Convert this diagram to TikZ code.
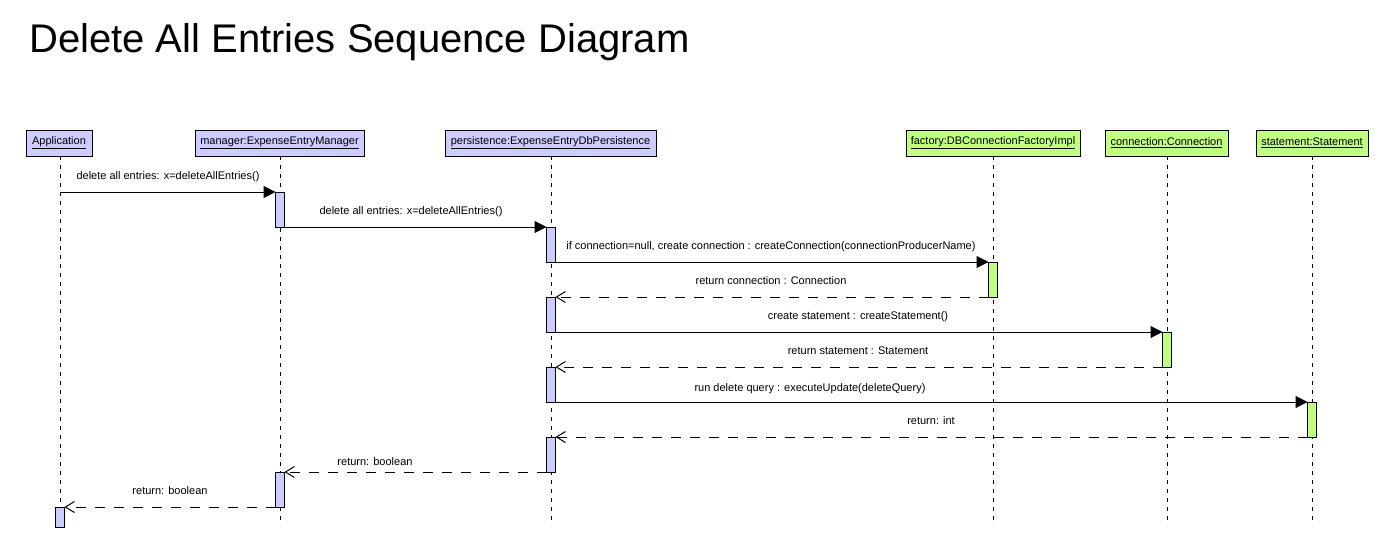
\documentclass[tikz,border=0pt]{standalone}
\usepackage{fontspec}
\setmainfont{Liberation Sans}
\usetikzlibrary{arrows.meta}
\definecolor{lav}{RGB}{204,204,255}
\definecolor{lgreen}{RGB}{192,255,128}
\begin{document}
\begin{tikzpicture}[x=1pt,y=-1pt,
  hdr/.style={draw,line width=1pt,minimum height=26pt,inner sep=0pt,outer sep=0pt,
    font=\fontsize{11}{13}\selectfont},
  hdrA/.style={hdr,fill=lav},
  hdrB/.style={hdr,fill=lgreen},
  bar/.style={draw,line width=1pt,minimum width=9pt,minimum height=35pt,inner sep=0pt,outer sep=0pt},
  barA/.style={bar,fill=lav},
  barB/.style={bar,fill=lgreen},
  life/.style={line width=1pt,dash pattern=on 4pt off 5pt},
  sync/.style={line width=1pt,-{Triangle[length=12pt,width=12pt]}},
  ret/.style={line width=1pt,dash pattern=on 10pt off 9pt,-{Straight Barb[length=9pt,width=11pt,line width=1pt]}},
  lbl/.style={anchor=base,inner sep=0pt,font=\fontsize{11}{13}\selectfont}]
\useasboundingbox[fill=white] (0,0) rectangle (1379,538);

\node[anchor=base west,inner sep=0pt,font=\fontsize{40}{48}\selectfont] (title) at (29,52) {Delete All Entries Sequence Diagram};

% headers
\node[hdrA,minimum width=66pt]  (app)  at (59,143)   {\underline{Application}};
\node[hdrA,minimum width=169pt] (man)  at (279.5,143) {\underline{manager:ExpenseEntryManager}};
\node[hdrA,minimum width=211pt] (per)  at (550.5,143) {\underline{persistence:ExpenseEntryDbPersistence}};
\node[hdrB,minimum width=174pt] (fac)  at (993,143)   {\underline{factory:DBConnectionFactoryImpl}};
\node[hdrB,minimum width=123pt] (con)  at (1166.5,143) {\underline{connection:Connection}};
\node[hdrB,minimum width=112pt] (sta)  at (1312,143)  {\underline{statement:Statement}};

% lifeline ends
\coordinate (appE) at (60,525);
\coordinate (manE) at (280,525);
\coordinate (perE) at (551,525);
\coordinate (facE) at (993,525);
\coordinate (conE) at (1167,525);
\coordinate (staE) at (1312,525);
\draw[life] (60,156) -- (appE);
\draw[life] (280,156) -- (manE);
\draw[life] (551,156) -- (perE);
\draw[life] (993,156) -- (facE);
\draw[life] (1167,156) -- (conE);
\draw[life] (1312,156) -- (staE);

% activation bars
\node[barA] (m1) at (280,209.5) {};
\node[barA] (p1) at (551,244.5) {};
\node[barB] (f1) at (993,279.5) {};
\node[barA] (p2) at (551,314.5) {};
\node[barB] (c1) at (1167,349.5) {};
\node[barA] (p3) at (551,384.5) {};
\node[barB] (s1) at (1312,419.5) {};
\node[barA] (p4) at (551,454.5) {};
\node[barA] (m2) at (280,489.5) {};
\node[barA,minimum height=20pt] (a1) at (60,517) {};

\coordinate (a0) at (60,192);

% messages
\draw[sync] (a0) -- (m1.north west);
\draw[sync] (m1.south east) -- (p1.north west);
\draw[sync] (p1.south east) -- (f1.north west);
\draw[ret]  (f1.south west) -- (p2.north east);
\draw[sync] (p2.south east) -- (c1.north west);
\draw[ret]  (c1.south west) -- (p3.north east);
\draw[sync] (p3.south east) -- (s1.north west);
\draw[ret]  (s1.south west) -- (p4.north east);
\draw[ret]  (p4.south west) -- (m2.north east);
\draw[ret]  (m2.south west) -- (a1.north east);

% labels
\node[lbl] (l1)  at (168,179) {delete all entries: x=deleteAllEntries()};
\node[lbl] (l2)  at (411,214) {delete all entries: x=deleteAllEntries()};
\node[lbl] (l3)  at (771,249) {if connection=null, create connection : createConnection(connectionProducerName)};
\node[lbl] (l4)  at (771,284) {return connection : Connection};
\node[lbl] (l5)  at (858,319) {create statement : createStatement()};
\node[lbl] (l6)  at (858,354) {return statement : Statement};
\node[lbl] (l7)  at (810,391) {run delete query : executeUpdate(deleteQuery)};
\node[lbl] (l8)  at (931,424) {return: int};
\node[lbl] (l9)  at (375,465) {return: boolean};
\node[lbl] (l10) at (170,494) {return: boolean};
\end{tikzpicture}
\end{document}
